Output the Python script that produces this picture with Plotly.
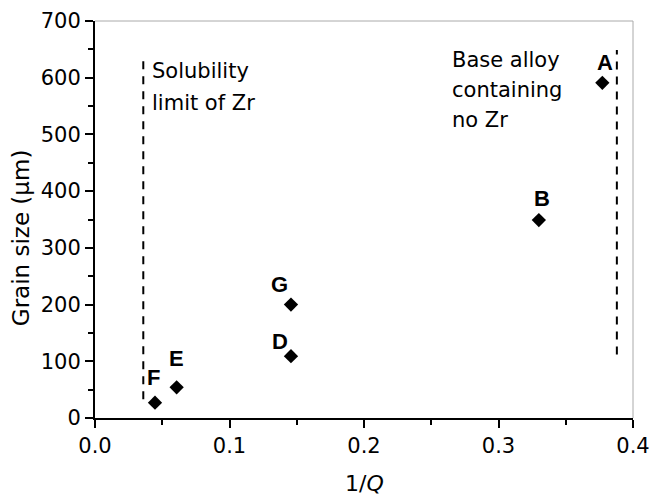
import plotly.graph_objects as go

# ── Data ────────────────────────────────────────────────────────────
labels = ["A", "B", "G", "D", "E", "F"]
inv_q = [0.3772, 0.330, 0.1457, 0.1457, 0.0607, 0.0446]
grain_size = [591, 349, 200, 109, 54, 27]

# vertical dashed guides
solubility_x = [0.0359, 0.0359]
solubility_y = [33, 637]
base_x = [0.388, 0.388]
base_y = [112, 649]

# note texts, one entry per line: (x, y, text)
solubility_lines = [(0.0409, 612, "Solubility"), (0.0409, 556, "limit of Zr")]
base_lines = [(0.264, 632, "Base alloy"), (0.264, 579, "containing"), (0.264, 526, "no Zr")]

FONT = "DejaVu Sans, sans-serif"
LETTER_FONT = "Liberation Sans, Arial, sans-serif"
FS = 21

fig = go.Figure()
for gx, gy in ((solubility_x, solubility_y), (base_x, base_y)):
    fig.add_trace(go.Scatter(x=gx, y=gy, mode="lines",
                             line={"color": "black", "width": 2, "dash": "8px,7px"},
                             hoverinfo="skip"))
fig.add_trace(go.Scatter(x=inv_q, y=grain_size, mode="markers",
                         marker={"symbol": "diamond", "size": 11, "color": "black"}))

# pixel shifts of each letter from its marker
offsets = {"A": (3, 20), "B": (3, 22), "G": (-11, 20), "D": (-11, 15),
           "E": (0, 29), "F": (-1, 25)}
for lab, xv, yv in zip(labels, inv_q, grain_size):
    dx, dy = offsets[lab]
    fig.add_annotation(x=xv, y=yv, text=f"<b>{lab}</b>", showarrow=False,
                       xshift=dx, yshift=dy, font={"size": 22, "family": LETTER_FONT, "color": "black"})

for xv, yv, txt in solubility_lines + base_lines:
    fig.add_annotation(x=xv, y=yv, xanchor="left", yanchor="middle", text=txt, showarrow=False,
                       font={"size": FS, "family": FONT, "color": "black"})

# axis titles placed by hand so the margins stay fixed
fig.add_annotation(x=0.5, y=-0.166, xref="paper", yref="paper", xanchor="center", yanchor="middle",
                   text="1/<i>Q</i>", showarrow=False,
                   font={"size": 22, "family": FONT, "color": "black"})
fig.add_annotation(x=-0.1375, y=0.453, xref="paper", yref="paper", xanchor="center", yanchor="middle",
                   textangle=-90, text="Grain size (\u03bcm)", showarrow=False,
                   font={"size": 23, "family": FONT, "color": "black"})

axis_common = {
    "showgrid": False, "zeroline": False, "showline": True, "linecolor": "black",
    "linewidth": 2, "ticks": "outside", "ticklen": 8, "tickwidth": 2, "tickcolor": "black",
    "tickfont": {"size": FS, "family": FONT, "color": "black"}, "automargin": False,
}
minor = {"ticks": "outside", "ticklen": 5, "tickwidth": 2, "tickcolor": "black"}

fig.update_layout(
    width=652, height=496,
    margin={"l": 95, "r": 19, "t": 21, "b": 78},
    paper_bgcolor="white", plot_bgcolor="white",
    showlegend=False,
    xaxis={**axis_common, "range": [0, 0.4], "dtick": 0.1, "tickformat": ".1f",
           "minor": {**minor, "dtick": 0.05}},
    yaxis={**axis_common, "range": [0, 700], "dtick": 100,
           "minor": {**minor, "dtick": 50}},
    shapes=[
        {"type": "line", "xref": "paper", "yref": "paper", "x0": 0, "x1": 1, "y0": 1, "y1": 1,
         "line": {"color": "#aaaaaa", "width": 1}},
        {"type": "line", "xref": "paper", "yref": "paper", "x0": 1, "x1": 1, "y0": 0, "y1": 1,
         "line": {"color": "#aaaaaa", "width": 1}},
    ],
)

# drop the page's default body margin so the figure fills the window exactly
fig.write_html("out.html", config={"displayModeBar": False},
               post_script="document.body.style.margin='0';document.body.style.overflow='hidden';")
